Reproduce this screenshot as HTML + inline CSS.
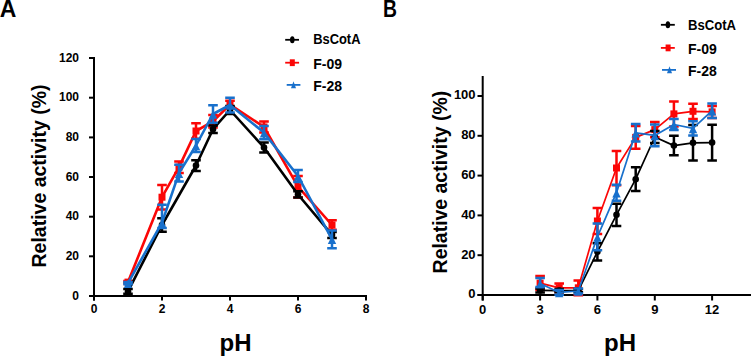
<!DOCTYPE html>
<html><head><meta charset="utf-8"><style>
html,body{margin:0;padding:0;background:#fff;width:751px;height:357px;overflow:hidden}
svg{display:block}
text{font-family:"Liberation Sans", sans-serif;fill:#000}
.tk{font-weight:bold}
.lg{font-size:14px;font-weight:bold}
.pl{font-size:23px;font-weight:bold}
.yt{font-size:20.5px;font-weight:bold}
.xt{font-size:24px;font-weight:bold}
</style></head><body>
<svg width="751" height="357" viewBox="0 0 751 357">
<text x="-0.2" y="16.8" class="pl">A</text>
<text x="383" y="16.8" class="pl" textLength="14" lengthAdjust="spacingAndGlyphs">B</text>
<path d="M94.0 57.0V300.5" stroke="#000" stroke-width="2"/>
<path d="M89.0 296.0H367.0" stroke="#000" stroke-width="2"/>
<path d="M89.0 296.0H94.0" stroke="#000" stroke-width="2"/>
<text x="79.0" y="299.7" text-anchor="end" style="font-size:12px" class="tk">0</text>
<path d="M89.0 256.3H94.0" stroke="#000" stroke-width="2"/>
<text x="79.0" y="260.0" text-anchor="end" style="font-size:12px" class="tk">20</text>
<path d="M89.0 216.7H94.0" stroke="#000" stroke-width="2"/>
<text x="79.0" y="220.4" text-anchor="end" style="font-size:12px" class="tk">40</text>
<path d="M89.0 177.0H94.0" stroke="#000" stroke-width="2"/>
<text x="79.0" y="180.7" text-anchor="end" style="font-size:12px" class="tk">60</text>
<path d="M89.0 137.4H94.0" stroke="#000" stroke-width="2"/>
<text x="79.0" y="141.1" text-anchor="end" style="font-size:12px" class="tk">80</text>
<path d="M89.0 97.7H94.0" stroke="#000" stroke-width="2"/>
<text x="79.0" y="101.4" text-anchor="end" style="font-size:12px" class="tk">100</text>
<path d="M89.0 58.0H94.0" stroke="#000" stroke-width="2"/>
<text x="79.0" y="61.7" text-anchor="end" style="font-size:12px" class="tk">120</text>
<path d="M94.0 296.0V300.5" stroke="#000" stroke-width="2"/>
<text x="94.0" y="313.0" text-anchor="middle" style="font-size:12px" class="tk">0</text>
<path d="M162.0 296.0V300.5" stroke="#000" stroke-width="2"/>
<text x="162.0" y="313.0" text-anchor="middle" style="font-size:12px" class="tk">2</text>
<path d="M230.0 296.0V300.5" stroke="#000" stroke-width="2"/>
<text x="230.0" y="313.0" text-anchor="middle" style="font-size:12px" class="tk">4</text>
<path d="M298.0 296.0V300.5" stroke="#000" stroke-width="2"/>
<text x="298.0" y="313.0" text-anchor="middle" style="font-size:12px" class="tk">6</text>
<path d="M366.0 296.0V300.5" stroke="#000" stroke-width="2"/>
<text x="366.0" y="313.0" text-anchor="middle" style="font-size:12px" class="tk">8</text>
<path d="M482.7 76.0V300.5" stroke="#000" stroke-width="2"/>
<path d="M477.5 295.0H751.0" stroke="#000" stroke-width="2"/>
<path d="M477.5 295.0H482.7" stroke="#000" stroke-width="2"/>
<text x="475.6" y="298.4" text-anchor="end" style="font-size:13px" class="tk">0</text>
<path d="M477.5 255.2H482.7" stroke="#000" stroke-width="2"/>
<text x="475.6" y="258.6" text-anchor="end" style="font-size:13px" class="tk">20</text>
<path d="M477.5 215.4H482.7" stroke="#000" stroke-width="2"/>
<text x="475.6" y="218.8" text-anchor="end" style="font-size:13px" class="tk">40</text>
<path d="M477.5 175.6H482.7" stroke="#000" stroke-width="2"/>
<text x="475.6" y="179.0" text-anchor="end" style="font-size:13px" class="tk">60</text>
<path d="M477.5 135.8H482.7" stroke="#000" stroke-width="2"/>
<text x="475.6" y="139.2" text-anchor="end" style="font-size:13px" class="tk">80</text>
<path d="M477.5 96.0H482.7" stroke="#000" stroke-width="2"/>
<text x="475.6" y="99.4" text-anchor="end" style="font-size:13px" class="tk">100</text>
<path d="M482.7 295.0V300.5" stroke="#000" stroke-width="2"/>
<text x="482.7" y="313.7" text-anchor="middle" style="font-size:13px" class="tk">0</text>
<path d="M540.1 295.0V300.5" stroke="#000" stroke-width="2"/>
<text x="540.1" y="313.7" text-anchor="middle" style="font-size:13px" class="tk">3</text>
<path d="M597.4 295.0V300.5" stroke="#000" stroke-width="2"/>
<text x="597.4" y="313.7" text-anchor="middle" style="font-size:13px" class="tk">6</text>
<path d="M654.8 295.0V300.5" stroke="#000" stroke-width="2"/>
<text x="654.8" y="313.7" text-anchor="middle" style="font-size:13px" class="tk">9</text>
<path d="M712.1 295.0V300.5" stroke="#000" stroke-width="2"/>
<text x="712.1" y="313.7" text-anchor="middle" style="font-size:13px" class="tk">12</text>
<polyline points="128.0,282.1 162.0,197.2 179.0,167.1 196.0,131.0 213.0,121.3 230.0,104.6 264.0,127.0 298.0,186.7 332.0,225.0" fill="none" stroke="#fb0606" stroke-width="2.6" stroke-linejoin="round"/>
<path d="M128.0 280.9V283.3M123.2 280.9H132.8M123.2 283.3H132.8" stroke="#fb0606" stroke-width="2.5" fill="none"/>
<path d="M162.0 185.0V209.5M157.2 185.0H166.8M157.2 209.5H166.8" stroke="#fb0606" stroke-width="2.5" fill="none"/>
<path d="M179.0 161.4V172.9M174.2 161.4H183.8M174.2 172.9H183.8" stroke="#fb0606" stroke-width="2.5" fill="none"/>
<path d="M196.0 123.3V138.7M191.2 123.3H200.8M191.2 138.7H200.8" stroke="#fb0606" stroke-width="2.5" fill="none"/>
<path d="M213.0 115.0V127.6M208.2 115.0H217.8M208.2 127.6H217.8" stroke="#fb0606" stroke-width="2.5" fill="none"/>
<path d="M230.0 100.7V108.6M225.2 100.7H234.8M225.2 108.6H234.8" stroke="#fb0606" stroke-width="2.5" fill="none"/>
<path d="M264.0 121.5V132.6M259.2 121.5H268.8M259.2 132.6H268.8" stroke="#fb0606" stroke-width="2.5" fill="none"/>
<path d="M298.0 176.0V197.4M293.2 176.0H302.8M293.2 197.4H302.8" stroke="#fb0606" stroke-width="2.5" fill="none"/>
<path d="M332.0 220.2V229.8M327.2 220.2H336.8M327.2 229.8H336.8" stroke="#fb0606" stroke-width="2.5" fill="none"/>
<rect x="124.5" y="278.6" width="7.0" height="7.0" fill="#fb0606"/>
<rect x="158.5" y="193.7" width="7.0" height="7.0" fill="#fb0606"/>
<rect x="175.5" y="163.6" width="7.0" height="7.0" fill="#fb0606"/>
<rect x="192.5" y="127.5" width="7.0" height="7.0" fill="#fb0606"/>
<rect x="209.5" y="117.8" width="7.0" height="7.0" fill="#fb0606"/>
<rect x="226.5" y="101.1" width="7.0" height="7.0" fill="#fb0606"/>
<rect x="260.5" y="123.5" width="7.0" height="7.0" fill="#fb0606"/>
<rect x="294.5" y="183.2" width="7.0" height="7.0" fill="#fb0606"/>
<rect x="328.5" y="221.5" width="7.0" height="7.0" fill="#fb0606"/>
<polyline points="128.0,291.4 162.0,225.0 196.0,165.5 213.0,129.2 230.0,110.0 264.0,147.5 298.0,194.5 332.0,234.9" fill="none" stroke="#000000" stroke-width="2.6" stroke-linejoin="round"/>
<path d="M128.0 289.1V293.8M123.2 289.1H132.8M123.2 293.8H132.8" stroke="#000000" stroke-width="2.5" fill="none"/>
<path d="M162.0 218.3V231.8M157.2 218.3H166.8M157.2 231.8H166.8" stroke="#000000" stroke-width="2.5" fill="none"/>
<path d="M196.0 160.2V170.9M191.2 160.2H200.8M191.2 170.9H200.8" stroke="#000000" stroke-width="2.5" fill="none"/>
<path d="M213.0 125.5V133.0M208.2 125.5H217.8M208.2 133.0H217.8" stroke="#000000" stroke-width="2.5" fill="none"/>
<path d="M230.0 106.0V114.0M225.2 106.0H234.8M225.2 114.0H234.8" stroke="#000000" stroke-width="2.5" fill="none"/>
<path d="M264.0 142.5V152.4M259.2 142.5H268.8M259.2 152.4H268.8" stroke="#000000" stroke-width="2.5" fill="none"/>
<path d="M298.0 191.3V197.6M293.2 191.3H302.8M293.2 197.6H302.8" stroke="#000000" stroke-width="2.5" fill="none"/>
<path d="M332.0 231.9V237.9M327.2 231.9H336.8M327.2 237.9H336.8" stroke="#000000" stroke-width="2.5" fill="none"/>
<circle cx="128.0" cy="291.4" r="3.3" fill="#000000"/>
<circle cx="162.0" cy="225.0" r="3.3" fill="#000000"/>
<circle cx="196.0" cy="165.5" r="3.3" fill="#000000"/>
<circle cx="213.0" cy="129.2" r="3.3" fill="#000000"/>
<circle cx="230.0" cy="110.0" r="3.3" fill="#000000"/>
<circle cx="264.0" cy="147.5" r="3.3" fill="#000000"/>
<circle cx="298.0" cy="194.5" r="3.3" fill="#000000"/>
<circle cx="332.0" cy="234.9" r="3.3" fill="#000000"/>
<polyline points="128.0,283.1 162.0,222.6 179.0,173.1 196.0,145.5 213.0,114.0 230.0,105.0 264.0,132.6 298.0,176.0 332.0,239.3" fill="none" stroke="#1870cc" stroke-width="2.6" stroke-linejoin="round"/>
<path d="M128.0 281.9V284.3M123.2 281.9H132.8M123.2 284.3H132.8" stroke="#1870cc" stroke-width="2.5" fill="none"/>
<path d="M162.0 204.8V228.0M157.2 204.8H166.8M157.2 228.0H166.8" stroke="#1870cc" stroke-width="2.5" fill="none"/>
<path d="M179.0 164.7V181.4M174.2 164.7H183.8M174.2 181.4H183.8" stroke="#1870cc" stroke-width="2.5" fill="none"/>
<path d="M196.0 138.9V152.0M191.2 138.9H200.8M191.2 152.0H200.8" stroke="#1870cc" stroke-width="2.5" fill="none"/>
<path d="M213.0 105.2V122.7M208.2 105.2H217.8M208.2 122.7H217.8" stroke="#1870cc" stroke-width="2.5" fill="none"/>
<path d="M230.0 97.7V112.4M225.2 97.7H234.8M225.2 112.4H234.8" stroke="#1870cc" stroke-width="2.5" fill="none"/>
<path d="M264.0 125.9V139.3M259.2 125.9H268.8M259.2 139.3H268.8" stroke="#1870cc" stroke-width="2.5" fill="none"/>
<path d="M298.0 170.1V182.0M293.2 170.1H302.8M293.2 182.0H302.8" stroke="#1870cc" stroke-width="2.5" fill="none"/>
<path d="M332.0 230.4V248.2M327.2 230.4H336.8M327.2 248.2H336.8" stroke="#1870cc" stroke-width="2.5" fill="none"/>
<path d="M128.0 279.5L132.2 287.9L123.8 287.9Z" fill="#1870cc"/>
<path d="M162.0 219.0L166.2 227.4L157.8 227.4Z" fill="#1870cc"/>
<path d="M179.0 169.5L183.2 177.9L174.8 177.9Z" fill="#1870cc"/>
<path d="M196.0 141.9L200.2 150.3L191.8 150.3Z" fill="#1870cc"/>
<path d="M213.0 110.4L217.2 118.8L208.8 118.8Z" fill="#1870cc"/>
<path d="M230.0 101.4L234.2 109.8L225.8 109.8Z" fill="#1870cc"/>
<path d="M264.0 129.0L268.2 137.4L259.8 137.4Z" fill="#1870cc"/>
<path d="M298.0 172.4L302.2 180.8L293.8 180.8Z" fill="#1870cc"/>
<path d="M332.0 235.7L336.2 244.1L327.8 244.1Z" fill="#1870cc"/>
<polyline points="540.1,283.1 559.2,287.8 578.3,287.8 597.4,221.0 616.5,168.0 635.7,137.4 654.8,129.6 673.9,113.9 693.0,111.3 712.1,111.9" fill="none" stroke="#fb0606" stroke-width="1.7" stroke-linejoin="round"/>
<path d="M540.1 276.1V290.0M535.3 276.1H544.9M535.3 290.0H544.9" stroke="#fb0606" stroke-width="2.5" fill="none"/>
<path d="M559.2 283.5V292.2M554.4 283.5H564.0M554.4 292.2H564.0" stroke="#fb0606" stroke-width="2.5" fill="none"/>
<path d="M578.3 280.5V295.2M573.5 280.5H583.1M573.5 295.2H583.1" stroke="#fb0606" stroke-width="2.5" fill="none"/>
<path d="M597.4 208.0V233.9M592.6 208.0H602.2M592.6 233.9H602.2" stroke="#fb0606" stroke-width="2.5" fill="none"/>
<path d="M616.5 150.9V185.2M611.7 150.9H621.3M611.7 185.2H621.3" stroke="#fb0606" stroke-width="2.5" fill="none"/>
<path d="M635.7 126.0V148.7M630.9 126.0H640.5M630.9 148.7H640.5" stroke="#fb0606" stroke-width="2.5" fill="none"/>
<path d="M654.8 122.1V137.2M650.0 122.1H659.6M650.0 137.2H659.6" stroke="#fb0606" stroke-width="2.5" fill="none"/>
<path d="M673.9 101.4V126.4M669.1 101.4H678.7M669.1 126.4H678.7" stroke="#fb0606" stroke-width="2.5" fill="none"/>
<path d="M693.0 103.8V118.9M688.2 103.8H697.8M688.2 118.9H697.8" stroke="#fb0606" stroke-width="2.5" fill="none"/>
<path d="M712.1 105.9V117.9M707.3 105.9H716.9M707.3 117.9H716.9" stroke="#fb0606" stroke-width="2.5" fill="none"/>
<rect x="536.6" y="279.6" width="7.0" height="7.0" fill="#fb0606"/>
<rect x="555.7" y="284.3" width="7.0" height="7.0" fill="#fb0606"/>
<rect x="574.8" y="284.3" width="7.0" height="7.0" fill="#fb0606"/>
<rect x="593.9" y="217.5" width="7.0" height="7.0" fill="#fb0606"/>
<rect x="613.0" y="164.5" width="7.0" height="7.0" fill="#fb0606"/>
<rect x="632.2" y="133.9" width="7.0" height="7.0" fill="#fb0606"/>
<rect x="651.3" y="126.1" width="7.0" height="7.0" fill="#fb0606"/>
<rect x="670.4" y="110.4" width="7.0" height="7.0" fill="#fb0606"/>
<rect x="689.5" y="107.8" width="7.0" height="7.0" fill="#fb0606"/>
<rect x="708.6" y="108.4" width="7.0" height="7.0" fill="#fb0606"/>
<polyline points="540.1,290.4 559.2,290.6 578.3,290.6 597.4,251.8 616.5,214.8 635.7,179.2 654.8,137.0 673.9,145.6 693.0,142.8 712.1,142.6" fill="none" stroke="#000000" stroke-width="1.7" stroke-linejoin="round"/>
<path d="M540.1 288.4V292.4M535.3 288.4H544.9M535.3 292.4H544.9" stroke="#000000" stroke-width="2.5" fill="none"/>
<path d="M559.2 289.0V292.2M554.4 289.0H564.0M554.4 292.2H564.0" stroke="#000000" stroke-width="2.5" fill="none"/>
<path d="M578.3 289.0V292.2M573.5 289.0H583.1M573.5 292.2H583.1" stroke="#000000" stroke-width="2.5" fill="none"/>
<path d="M597.4 243.3V260.4M592.6 243.3H602.2M592.6 260.4H602.2" stroke="#000000" stroke-width="2.5" fill="none"/>
<path d="M616.5 203.7V225.9M611.7 203.7H621.3M611.7 225.9H621.3" stroke="#000000" stroke-width="2.5" fill="none"/>
<path d="M635.7 167.2V191.1M630.9 167.2H640.5M630.9 191.1H640.5" stroke="#000000" stroke-width="2.5" fill="none"/>
<path d="M654.8 131.0V143.0M650.0 131.0H659.6M650.0 143.0H659.6" stroke="#000000" stroke-width="2.5" fill="none"/>
<path d="M673.9 135.8V155.3M669.1 135.8H678.7M669.1 155.3H678.7" stroke="#000000" stroke-width="2.5" fill="none"/>
<path d="M693.0 125.1V160.5M688.2 125.1H697.8M688.2 160.5H697.8" stroke="#000000" stroke-width="2.5" fill="none"/>
<path d="M712.1 124.7V160.5M707.3 124.7H716.9M707.3 160.5H716.9" stroke="#000000" stroke-width="2.5" fill="none"/>
<circle cx="540.1" cy="290.4" r="3.3" fill="#000000"/>
<circle cx="559.2" cy="290.6" r="3.3" fill="#000000"/>
<circle cx="578.3" cy="290.6" r="3.3" fill="#000000"/>
<circle cx="597.4" cy="251.8" r="3.3" fill="#000000"/>
<circle cx="616.5" cy="214.8" r="3.3" fill="#000000"/>
<circle cx="635.7" cy="179.2" r="3.3" fill="#000000"/>
<circle cx="654.8" cy="137.0" r="3.3" fill="#000000"/>
<circle cx="673.9" cy="145.6" r="3.3" fill="#000000"/>
<circle cx="693.0" cy="142.8" r="3.3" fill="#000000"/>
<circle cx="712.1" cy="142.6" r="3.3" fill="#000000"/>
<polyline points="540.1,283.5 559.2,292.4 578.3,291.0 597.4,236.9 616.5,192.7 635.7,132.8 654.8,135.4 673.9,124.5 693.0,128.4 712.1,110.7" fill="none" stroke="#1870cc" stroke-width="1.7" stroke-linejoin="round"/>
<path d="M540.1 277.9V287.0M535.3 277.9H544.9M535.3 287.0H544.9" stroke="#1870cc" stroke-width="2.5" fill="none"/>
<path d="M559.2 290.0V294.8M554.4 290.0H564.0M554.4 294.8H564.0" stroke="#1870cc" stroke-width="2.5" fill="none"/>
<path d="M578.3 288.6V293.4M573.5 288.6H583.1M573.5 293.4H583.1" stroke="#1870cc" stroke-width="2.5" fill="none"/>
<path d="M597.4 223.6V250.2M592.6 223.6H602.2M592.6 250.2H602.2" stroke="#1870cc" stroke-width="2.5" fill="none"/>
<path d="M616.5 184.8V200.7M611.7 184.8H621.3M611.7 200.7H621.3" stroke="#1870cc" stroke-width="2.5" fill="none"/>
<path d="M635.7 124.1V141.6M630.9 124.1H640.5M630.9 141.6H640.5" stroke="#1870cc" stroke-width="2.5" fill="none"/>
<path d="M654.8 124.5V146.3M650.0 124.5H659.6M650.0 146.3H659.6" stroke="#1870cc" stroke-width="2.5" fill="none"/>
<path d="M673.9 118.9V130.0M669.1 118.9H678.7M669.1 130.0H678.7" stroke="#1870cc" stroke-width="2.5" fill="none"/>
<path d="M693.0 121.3V135.6M688.2 121.3H697.8M688.2 135.6H697.8" stroke="#1870cc" stroke-width="2.5" fill="none"/>
<path d="M712.1 103.4V118.1M707.3 103.4H716.9M707.3 118.1H716.9" stroke="#1870cc" stroke-width="2.5" fill="none"/>
<path d="M540.1 279.9L544.3 288.3L535.9 288.3Z" fill="#1870cc"/>
<path d="M559.2 288.8L563.4 297.2L555.0 297.2Z" fill="#1870cc"/>
<path d="M578.3 287.4L582.5 295.8L574.1 295.8Z" fill="#1870cc"/>
<path d="M597.4 233.3L601.6 241.7L593.2 241.7Z" fill="#1870cc"/>
<path d="M616.5 189.1L620.7 197.5L612.3 197.5Z" fill="#1870cc"/>
<path d="M635.7 129.2L639.9 137.6L631.5 137.6Z" fill="#1870cc"/>
<path d="M654.8 131.8L659.0 140.2L650.6 140.2Z" fill="#1870cc"/>
<path d="M673.9 120.9L678.1 129.3L669.7 129.3Z" fill="#1870cc"/>
<path d="M693.0 124.8L697.2 133.2L688.8 133.2Z" fill="#1870cc"/>
<path d="M712.1 107.1L716.3 115.5L707.9 115.5Z" fill="#1870cc"/>
<path d="M285.2 39.8H299.0" stroke="#000000" stroke-width="1.8"/>
<ellipse cx="292.3" cy="39.8" rx="2.3" ry="3.5" fill="#000000"/>
<text x="313.2" y="44.2" class="lg" textLength="47.3" lengthAdjust="spacingAndGlyphs">BsCotA</text>
<path d="M285.2 62.7H299.1" stroke="#fb0606" stroke-width="1.8"/>
<rect x="289.8" y="59.3" width="5" height="6.8" fill="#fb0606"/>
<text x="313.2" y="69.2" class="lg">F-09</text>
<path d="M286.7 84.9H300.4" stroke="#1870cc" stroke-width="1.8"/>
<path d="M293.5 81.3L296.0 88.3L291.0 88.3Z" fill="#1870cc"/>
<text x="313.2" y="90.5" class="lg">F-28</text>
<path d="M660.9 24.8H674.8" stroke="#000000" stroke-width="1.8"/>
<ellipse cx="667.9" cy="24.8" rx="2.3" ry="3.5" fill="#000000"/>
<text x="688.0" y="29.8" class="lg" textLength="48" lengthAdjust="spacingAndGlyphs">BsCotA</text>
<path d="M660.9 47.9H674.8" stroke="#fb0606" stroke-width="1.8"/>
<rect x="665.6" y="44.5" width="5" height="6.8" fill="#fb0606"/>
<text x="688.0" y="54.1" class="lg">F-09</text>
<path d="M662.0 69.9H676.0" stroke="#1870cc" stroke-width="1.8"/>
<path d="M669.5 66.3L672.0 73.3L667.0 73.3Z" fill="#1870cc"/>
<text x="688.0" y="75.7" class="lg">F-28</text>
<text class="yt" transform="translate(46.2,267.5) rotate(-90)" textLength="183" lengthAdjust="spacingAndGlyphs">Relative activity (%)</text>
<text class="yt" transform="translate(447.1,273.4) rotate(-90)" textLength="182.6" lengthAdjust="spacingAndGlyphs">Relative activity (%)</text>
<text x="219.5" y="350.6" class="xt">pH</text>
<text x="604" y="351.1" class="xt">pH</text>
</svg>
</body></html>
